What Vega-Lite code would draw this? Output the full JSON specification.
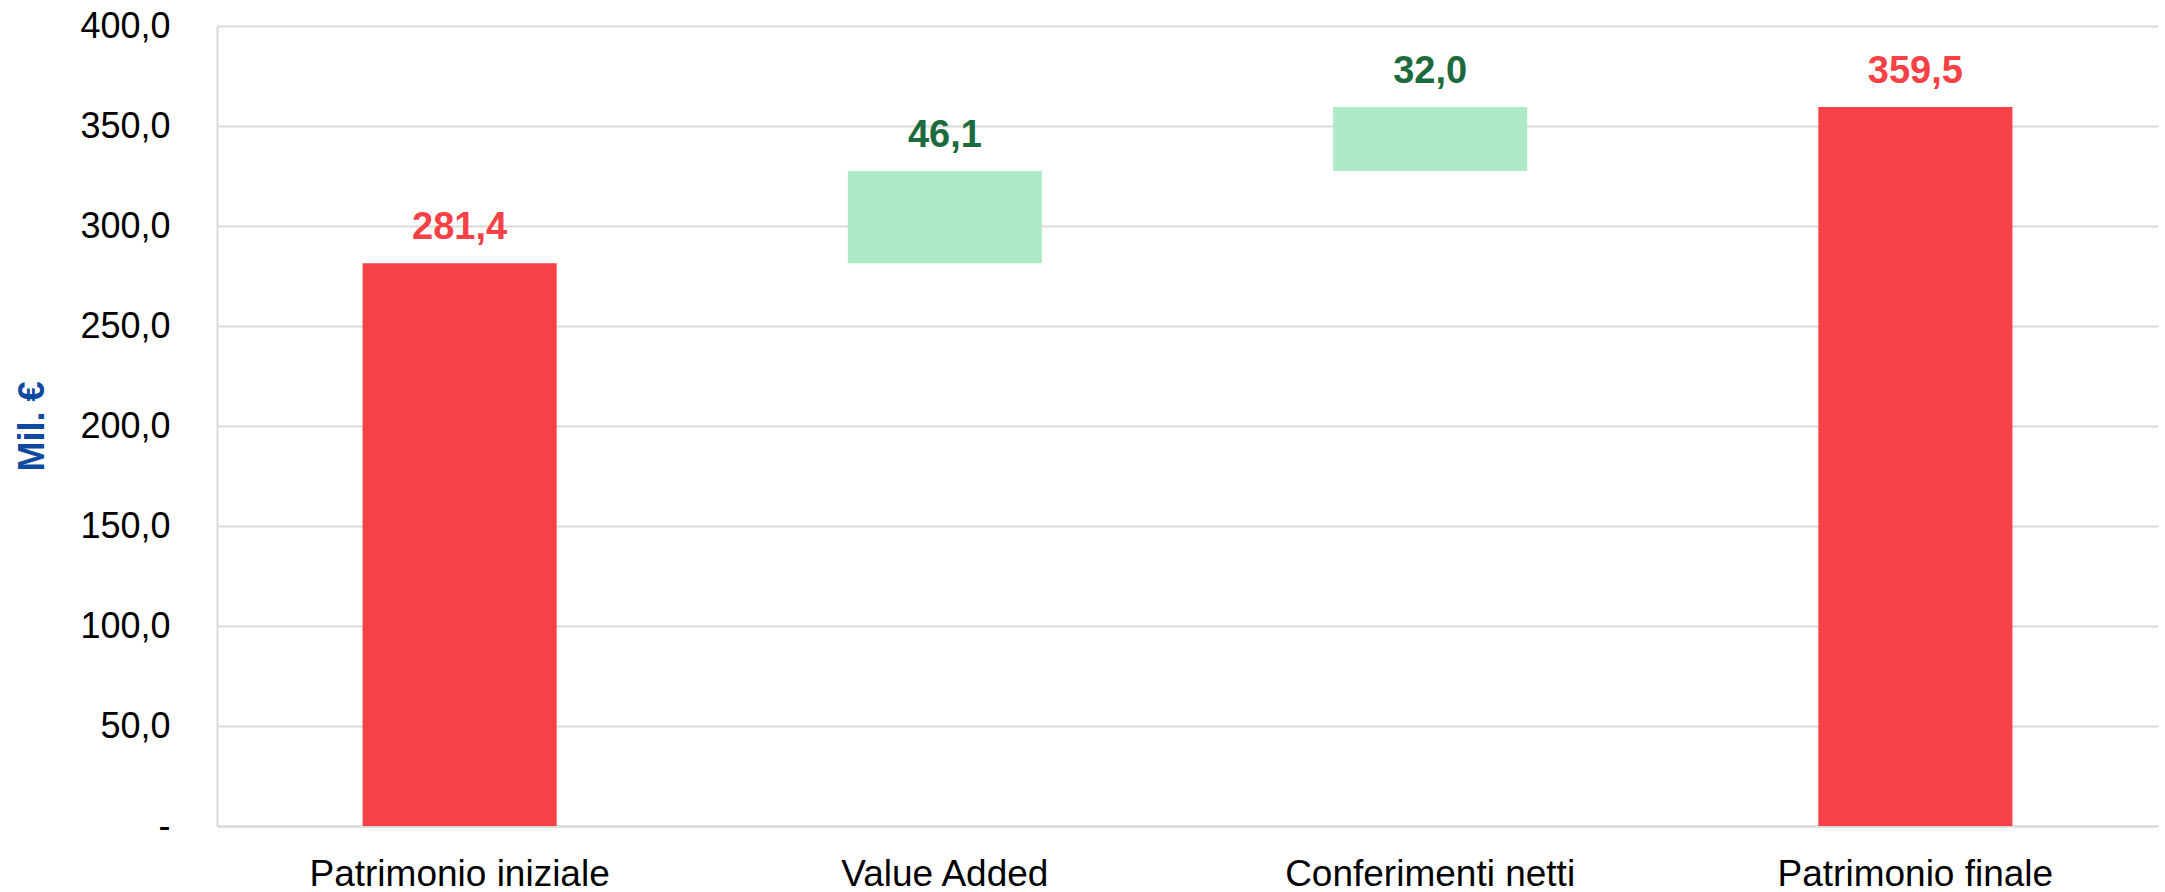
{
  "$schema": "https://vega.github.io/schema/vega-lite/v6.json",
  "width": 1941,
  "height": 800,
  "autosize": "none",
  "padding": {"left": 217, "top": 26, "right": 7, "bottom": 66},
  "background": "white",
  "config": {
    "locale": {"number": {"decimal": ",", "thousands": ".", "grouping": [3], "currency": ["", " €"]}},
    "view": {"stroke": null},
    "font": "Liberation Sans"
  },
  "data": {
    "values": [
      {"voce": "Patrimonio iniziale", "inizio": 0, "fine": 281.4, "valore": 281.4, "tipo": "totale"},
      {"voce": "Value Added", "inizio": 281.4, "fine": 327.5, "valore": 46.1, "tipo": "variazione"},
      {"voce": "Conferimenti netti", "inizio": 327.5, "fine": 359.5, "valore": 32.0, "tipo": "variazione"},
      {"voce": "Patrimonio finale", "inizio": 0, "fine": 359.5, "valore": 359.5, "tipo": "totale"}
    ]
  },
  "encoding": {
    "x": {
      "field": "voce",
      "type": "nominal",
      "sort": null,
      "scale": {"paddingInner": 0.6, "paddingOuter": 0.3},
      "axis": {
        "title": null,
        "labelAngle": 0,
        "labelFontSize": 37,
        "labelColor": "#000000",
        "labelPadding": 30,
        "labelLimit": 0,
        "ticks": false,
        "domainColor": "#D9D9D9",
        "domainWidth": 2
      }
    }
  },
  "layer": [
    {
      "mark": {"type": "bar"},
      "encoding": {
        "y": {
          "field": "inizio",
          "type": "quantitative",
          "scale": {"domain": [0, 400], "nice": false},
          "axis": {
            "values": [0, 50, 100, 150, 200, 250, 300, 350, 400],
            "labelExpr": "datum.value === 0 ? '-' : datum.label",
            "format": ".1f",
            "labelFontSize": 36,
            "labelColor": "#000000",
            "labelPadding": 47,
            "ticks": false,
            "domain": true,
            "domainColor": "#D9D9D9",
            "domainWidth": 2,
            "gridColor": "#D9D9D9",
            "gridWidth": 2,
            "title": "Mil. €",
            "titleFontSize": 36,
            "titleFontWeight": "bold",
            "titleColor": "#0E4AA0",
            "titlePadding": 28
          }
        },
        "y2": {"field": "fine"},
        "color": {
          "condition": {"test": "datum.tipo === 'totale'", "value": "#F64147"},
          "value": "#AEEAC6"
        }
      }
    },
    {
      "mark": {"type": "text", "baseline": "middle", "dy": -35, "fontSize": 38, "fontWeight": "bold"},
      "encoding": {
        "y": {"field": "fine", "type": "quantitative"},
        "text": {"field": "valore", "type": "quantitative", "format": ".1f"},
        "color": {
          "condition": {"test": "datum.tipo === 'totale'", "value": "#F64147"},
          "value": "#1D6B3D"
        }
      }
    }
  ]
}
